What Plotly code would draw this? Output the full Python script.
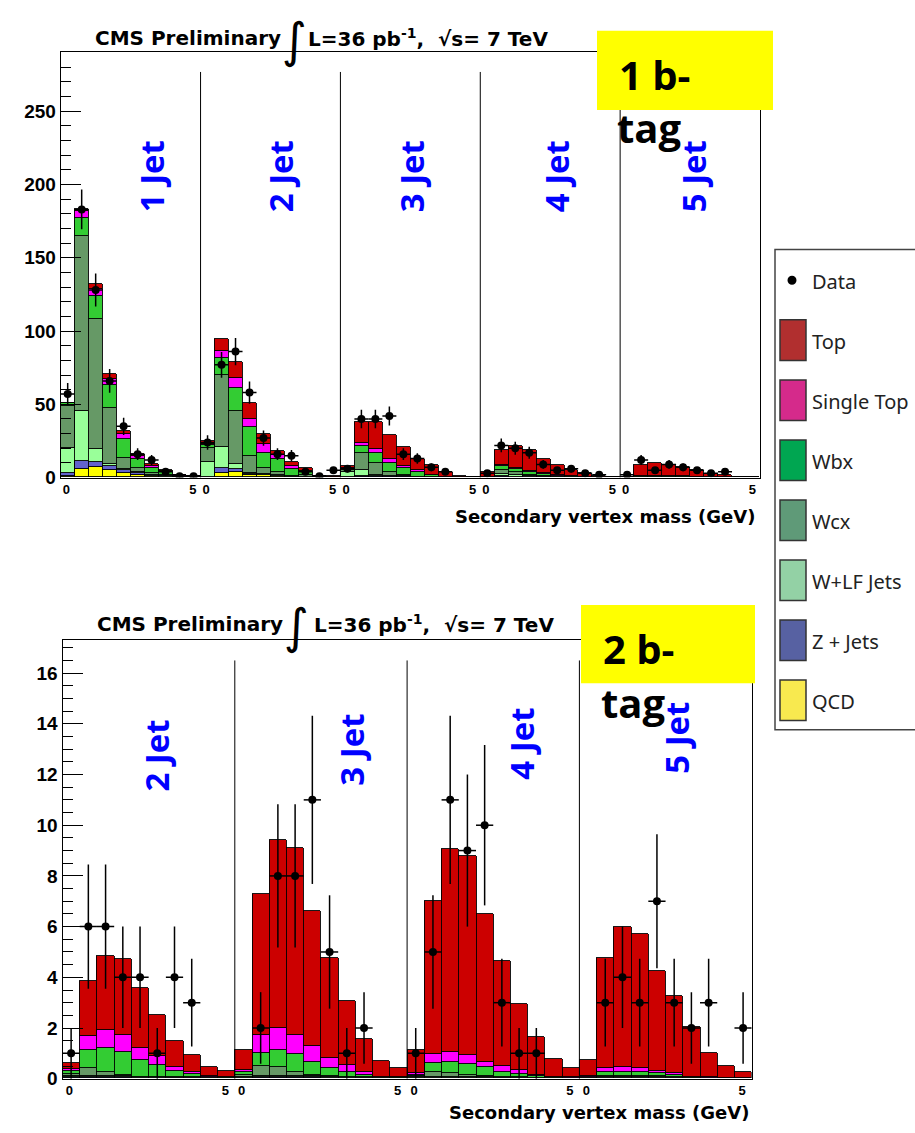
import math
import plotly.graph_objects as go

W, H = 915, 1133

# ---------------- 1 b-tag: five jet-multiplicity blocks, 10 bins each ----------------
TAG1_QCD = [1, 6, 7, 5.4, 2.7, 2, 1, 0.3, 0.1, 0.05,
            0.3, 3, 4, 2, 1.5, 1, 0.2, 0.2, 0.05, 0.02,
            0.2, 0.5, 0.5, 0.4, 0.4, 0.1, 0.1, 0.05, 0.02, 0,
            0.1, 0.5, 0.2, 0.2, 0.1, 0.1, 0.05, 0.02, 0.02, 0,
            0.02, 0.1, 0.1, 0.1, 0.1, 0.05, 0.02, 0.02, 0, 0]
TAG1_ZJETS = [2, 5.5, 3.5, 2.3, 2.3, 0.7, 0.3, 0.2, 0.1, 0.05,
              0.3, 3.5, 2, 0.5, 0.4, 0.3, 0.1, 0.1, 0.02, 0.02,
              0.2, 0.7, 0.5, 0.3, 0.3, 0.1, 0.1, 0.05, 0.02, 0,
              0.1, 0.5, 0.3, 0.2, 0.1, 0.1, 0.05, 0.02, 0.02, 0,
              0.02, 0.1, 0.1, 0.1, 0.1, 0.05, 0.02, 0.02, 0, 0]
TAG1_WLF = [17, 33.5, 9, 1.8, 0.6, 1.1, 0.2, 0.2, 0.1, 0.05,
            10, 14.6, 3.4, 0.5, 0.3, 0.5, 0.2, 0.2, 0.03, 0.03,
            3, 3.6, 1, 0.3, 0.3, 0.1, 0.1, 0.05, 0.02, 0,
            0.1, 1.5, 1, 0.5, 0.3, 0.1, 0.1, 0.05, 0.02, 0,
            0.02, 0.1, 0.1, 0.1, 0.1, 0.05, 0.02, 0.02, 0, 0]
TAG1_WCX = [29, 120, 88.5, 37.8, 8, 2.7, 1.5, 1.3, 0.4, 0.3,
            9.5, 48.7, 36, 11.5, 3.9, 2, 0.5, 1, 0.1, 0.1,
            1.5, 11.7, 8, 2.8, 0.5, 0.2, 0.1, 0.05, 0.03, 0.02,
            0.1, 2.5, 2, 1, 0.5, 0.2, 0.2, 0.05, 0.02, 0.02,
            0.04, 0.1, 0.1, 0.1, 0.1, 0.05, 0.04, 0.02, 0.02, 0]
TAG1_WBX = [1.5, 12, 16, 15.5, 12.8, 6.3, 3.5, 2, 0.6, 0.3,
            2, 11.7, 15.7, 20, 10.8, 9, 5, 2.5, 0.4, 0.3,
            1, 5, 6.5, 6.3, 4.6, 3.5, 1.2, 0.2, 0.05, 0.05,
            0.1, 2.5, 2.5, 2, 1.5, 0.8, 0.4, 0.2, 0.05, 0.05,
            0.1, 0.5, 0.5, 0.4, 0.3, 0.2, 0.1, 0.05, 0.03, 0.02]
TAG1_STOP = [0, 4.5, 4.5, 4.5, 3.3, 1.8, 1.4, 0.3, 0.1, 0.05,
             0.5, 5, 6.8, 5.6, 6, 2.7, 1.8, 0.5, 0.1, 0.05,
             0.3, 2.2, 3, 2.7, 1.6, 1.1, 0.3, 0.1, 0.03, 0.02,
             0.1, 0.8, 0.5, 0.3, 0.3, 0.2, 0.1, 0.05, 0.02, 0.02,
             0.02, 0.1, 0.1, 0.1, 0.1, 0.05, 0.02, 0.02, 0, 0]
TAG1_TOP = [0.3, 1.8, 3.5, 3, 2.3, 1.6, 1.1, 0.5, 0.2, 0.2,
            2, 8.3, 11, 10.5, 7, 2.5, 2.7, 1.6, 0.5, 0.3,
            1.5, 13.9, 18.1, 16.2, 12.8, 7.5, 6.4, 3.5, 1, 0.2,
            3, 10.6, 14.9, 14.5, 10, 7.3, 4.5, 2.4, 0.9, 0.5,
            0.4, 7.8, 9.1, 7.5, 6.5, 4.4, 2, 1.3, 0.3, 0.1]
TAG1_DATA = [57, 183, 128, 66, 35, 16, 12, 4, 1, 1,
             24, 77, 86, 58, 27, 16, 15, 4, 1, 5,
             6, 40, 40, 42, 16, 13, 7, 4, None, None,
             3, 22, 20, 17, 9, 5, 6, 3, 2, None,
             2, 12, 5, 9, 7, 5, 3, 4, None, None]

# ---------------- 2 b-tag: four jet-multiplicity blocks, 10 bins each ----------------
TAG2_QCD = [0.02, 0.02, 0.02, 0.02, 0.01, 0.01, 0.01, 0.01, 0.01, 0.01,
            0.01, 0.02, 0.02, 0.02, 0.02, 0.01, 0.01, 0.01, 0.01, 0,
            0.01, 0.01, 0.01, 0.01, 0.01, 0.01, 0.01, 0, 0, 0,
            0, 0.01, 0.01, 0.01, 0.01, 0.01, 0, 0, 0, 0]
TAG2_ZJETS = [0.03, 0.03, 0.02, 0.02, 0.01, 0.01, 0.01, 0.01, 0.01, 0,
              0.01, 0.03, 0.03, 0.03, 0.03, 0.02, 0.01, 0.01, 0.01, 0.01,
              0.01, 0.01, 0.02, 0.02, 0.02, 0.01, 0.01, 0.01, 0.01, 0,
              0.01, 0.01, 0.01, 0.01, 0.01, 0.01, 0.01, 0, 0, 0]
TAG2_WLF = [0.05, 0.05, 0.04, 0.04, 0.02, 0.02, 0.01, 0.01, 0.01, 0.01,
            0.03, 0.05, 0.05, 0.05, 0.05, 0.03, 0.02, 0.01, 0.01, 0.01,
            0.02, 0.02, 0.03, 0.03, 0.02, 0.01, 0.01, 0.01, 0.01, 0.01,
            0.01, 0.02, 0.02, 0.02, 0.02, 0.01, 0.01, 0.01, 0, 0]
TAG2_WCX = [0.08, 0.29, 0.15, 0.05, 0.03, 0.02, 0.02, 0.01, 0.01, 0.01,
            0.08, 0.39, 0.33, 0.13, 0.05, 0.03, 0.02, 0.02, 0.01, 0.01,
            0.04, 0.19, 0.15, 0.07, 0.03, 0.02, 0.01, 0.01, 0.01, 0.01,
            0.02, 0.06, 0.04, 0.06, 0.04, 0.02, 0.01, 0.01, 0.01, 0.01]
TAG2_WBX = [0.12, 0.73, 0.98, 0.89, 0.66, 0.45, 0.24, 0.14, 0.03, 0.02,
            0.1, 0.52, 0.67, 0.72, 0.5, 0.3, 0.17, 0.1, 0.02, 0.01,
            0.06, 0.37, 0.44, 0.43, 0.35, 0.2, 0.14, 0.05, 0.02, 0.01,
            0.02, 0.16, 0.18, 0.16, 0.12, 0.08, 0.02, 0.01, 0.01, 0.01]
TAG2_STOP = [0.05, 0.54, 0.69, 0.67, 0.48, 0.37, 0.17, 0.08, 0.01, 0.01,
             0.08, 0.68, 0.89, 0.74, 0.62, 0.43, 0.29, 0.08, 0.01, 0.01,
             0.06, 0.35, 0.39, 0.35, 0.22, 0.23, 0.13, 0.05, 0.01, 0.01,
             0.02, 0.13, 0.19, 0.13, 0.1, 0.07, 0.02, 0.01, 0.01, 0.01]
TAG2_TOP = [0.25, 2.19, 2.92, 3.0, 2.34, 1.61, 1.03, 0.65, 0.38, 0.24,
            0.82, 5.6, 7.42, 7.4, 5.32, 3.91, 2.51, 1.33, 0.6, 0.35,
            0.92, 6.05, 8.02, 7.85, 5.83, 4.15, 2.62, 1.5, 0.72, 0.35,
            0.65, 4.34, 5.51, 5.31, 3.94, 3.03, 1.96, 0.94, 0.46, 0.2]
TAG2_DATA = [1, 6, 6, 4, 4, 1, 4, 3, None, None,
             None, 2, 8, 8, 11, 5, 1, 2, None, None,
             1, 5, 11, 9, 10, 3, 1, 1, None, None,
             None, 3, 4, 3, 7, 3, 2, 3, None, 2]

TAG1_JETS = ["1 Jet", "2 Jet", "3 Jet", "4 Jet", "5 Jet"]
TAG2_JETS = ["2 Jet", "3 Jet", "4 Jet", "5 Jet"]

LEGEND_NAMES = ["Top", "Single Top", "Wbx", "Wcx", "W+LF Jets", "Z + Jets", "QCD"]
LEGEND_COLORS = ["#b12f2f", "#d52a8b", "#00a651", "#5f9a78", "#93d1a5", "#5761a2", "#f8e94f"]

# fill colours of the stacked histograms (bottom -> top)
STACK = [
    ("QCD", "#ffff00"),
    ("Z + Jets", "#6262cc"),
    ("W+LF Jets", "#99ff99"),
    ("Wcx", "#669966"),
    ("Wbx", "#33cc33"),
    ("Single Top", "#ff00ff"),
    ("Top", "#cc0000"),
]


def px(x):
    return x / W


def py(y):
    return 1 - y / H


fig = go.Figure()


def add_panel(xa, ya, comps, data):
    n = len(data)
    xc = [i + 0.5 for i in range(n)]
    for (name, color), vals in zip(STACK, comps):
        fig.add_trace(go.Bar(
            x=xc, y=vals, width=1.0, name=name, showlegend=False,
            marker=dict(color=color, line=dict(color="black", width=0.9)),
            xaxis=xa, yaxis=ya, hoverinfo="skip"))
    dx = [x for x, v in zip(xc, data) if v is not None]
    dy = [v for v in data if v is not None]
    fig.add_trace(go.Scatter(
        x=dx, y=dy, mode="markers", showlegend=False, xaxis=xa, yaxis=ya,
        marker=dict(color="black", size=8),
        error_y=dict(type="data", array=[math.sqrt(v) for v in dy],
                     color="black", thickness=1.5, width=0),
        error_x=dict(type="constant", value=0.5, color="black",
                     thickness=1.5, width=0)))


add_panel("x", "y", [TAG1_QCD, TAG1_ZJETS, TAG1_WLF, TAG1_WCX, TAG1_WBX, TAG1_STOP, TAG1_TOP], TAG1_DATA)
add_panel("x2", "y2", [TAG2_QCD, TAG2_ZJETS, TAG2_WLF, TAG2_WCX, TAG2_WBX, TAG2_STOP, TAG2_TOP], TAG2_DATA)

tickfont_y = dict(family="Liberation Sans", size=19, color="black", weight="bold")
tickfont_x = dict(family="Liberation Sans", size=13, color="black", weight="bold")


def x_ticks(nsec):
    vals, text = [], []
    for s in range(nsec):
        vals += [10 * s + 0.4, 10 * s + 9.45]
        text += ["0", "5"]
    return vals, text


tv1, tt1 = x_ticks(5)
tv2, tt2 = x_ticks(4)

axis_common = dict(showline=True, linecolor="black", linewidth=1, mirror=True,
                   showgrid=False, zeroline=False)

fig.update_layout(
    width=W, height=H, autosize=False,
    margin=dict(l=0, r=0, t=0, b=0),
    paper_bgcolor="white", plot_bgcolor="white",
    barmode="stack", bargap=0,
    xaxis=dict(domain=[px(60.7), px(760)], range=[0, 50], anchor="y",
               tickmode="array", tickvals=tv1, ticktext=tt1, ticks="",
               tickfont=tickfont_x, **axis_common),
    yaxis=dict(domain=[py(482.3), py(52.7)], range=[0, 290.3], anchor="x",
               tick0=0, dtick=50, ticks="inside", ticklen=20, tickwidth=1,
               tickcolor="black", tickfont=tickfont_y,
               minor=dict(dtick=10, ticks="inside", ticklen=10, tickwidth=1, tickcolor="black"),
               **axis_common),
    xaxis2=dict(domain=[px(62.5), px(751.7)], range=[0, 40], anchor="y2",
                tickmode="array", tickvals=tv2, ticktext=tt2, ticks="",
                tickfont=tickfont_x, **axis_common),
    yaxis2=dict(domain=[py(1089.3), py(646.7)], range=[0, 17.29], anchor="x2",
                tick0=0, dtick=2, ticks="inside", ticklen=20, tickwidth=1,
                tickcolor="black", tickfont=tickfont_y,
                minor=dict(dtick=0.5, ticks="inside", ticklen=10, tickwidth=1, tickcolor="black"),
                **axis_common),
)

shapes = []
annots = []

# block separators
for s in range(1, 5):
    shapes.append(dict(type="line", xref="x", yref="y", x0=10 * s, x1=10 * s, y0=0, y1=276.8,
                       line=dict(color="black", width=1), layer="above"))
for s in range(1, 4):
    shapes.append(dict(type="line", xref="x2", yref="y2", x0=10 * s, x1=10 * s, y0=0, y1=16.5,
                       line=dict(color="black", width=1), layer="above"))

# jet multiplicity labels
jet_font = dict(family="Open Sans", size=33, color="#0000ff", weight="bold")
for name, (cx, cy) in zip(TAG1_JETS, [(151, 178), (280, 178), (411, 178), (556, 178), (693, 178)]):
    annots.append(dict(text=name, x=px(cx), y=py(cy), xref="paper", yref="paper",
                       textangle=-90, showarrow=False, font=jet_font,
                       xanchor="center", yanchor="middle"))
for name, (cx, cy) in zip(TAG2_JETS, [(157, 763), (352, 757), (522, 751), (677, 745)]):
    annots.append(dict(text=name, x=px(cx), y=py(cy), xref="paper", yref="paper",
                       textangle=-90, showarrow=False, font=jet_font,
                       xanchor="center", yanchor="middle"))

# header lines
hdr_font = dict(family="DejaVu Sans", size=20, color="black", weight="bold")
for (xr, yc, xi, xl) in [(283, 38, 294, 306), (285, 630, 296, 312)]:
    annots.append(dict(text="CMS Preliminary", x=px(xr), y=py(yc), xref="paper", yref="paper",
                       xanchor="right", yanchor="middle", showarrow=False, font=hdr_font))
    annots.append(dict(text="∫", x=px(xi), y=py(yc + 2), xref="paper", yref="paper",
                       xanchor="center", yanchor="middle", showarrow=False,
                       font=dict(family="DejaVu Sans", size=48, color="black")))
    annots.append(dict(text="L=36 pb<sup>-1</sup>,  √s= 7 TeV", x=px(xl), y=py(yc), xref="paper",
                       yref="paper", xanchor="left", yanchor="middle", showarrow=False,
                       font=hdr_font))

# axis titles
for (xr, yc) in [(757, 522), (751, 1123)]:
    annots.append(dict(text="Secondary vertex mass (GeV)", x=px(xr), y=py(yc), xref="paper",
                       yref="paper", xanchor="right", yanchor="middle", showarrow=False,
                       font=dict(family="DejaVu Sans", size=18, color="black", weight="bold")))

# b-tag boxes
tag_font = dict(family="Open Sans", size=40, color="black", weight="bold")
for (x0, y0, x1, y1, label) in [(597, 31, 773, 111, "1 b-"), (581, 611, 755, 690, "2 b-")]:
    shapes.append(dict(type="rect", xref="paper", yref="paper", x0=px(x0), x1=px(x1),
                       y0=py(y1), y1=py(y0), fillcolor="#ffff00", line=dict(width=0),
                       layer="above"))
    annots.append(dict(text=label, x=px(x0 + 20), y=py(y0 + 44), xref="paper", yref="paper",
                       xanchor="left", yanchor="middle", showarrow=False, font=tag_font))
    annots.append(dict(text="tag", x=px(x0 + 18), y=py(y0 + 98), xref="paper", yref="paper",
                       xanchor="left", yanchor="middle", showarrow=False, font=tag_font))

# legend panel
shapes.append(dict(type="rect", xref="paper", yref="paper", x0=px(775), x1=px(930),
                   y0=py(737), y1=py(252), fillcolor="white",
                   line=dict(color="#444444", width=1.5), layer="above"))
shapes.append(dict(type="circle", xref="paper", yref="paper", x0=px(787.5), x1=px(796.5),
                   y0=py(287.5), y1=py(278.5), fillcolor="black", line=dict(width=0),
                   layer="above"))
leg_font = dict(family="Noto Sans", size=20, color="#222222")
annots.append(dict(text="Data", x=px(810), y=py(284), xref="paper", yref="paper",
                   xanchor="left", yanchor="middle", showarrow=False, font=leg_font))
for i, (name, color) in enumerate(zip(LEGEND_NAMES, LEGEND_COLORS)):
    top = 323 + i * 60.6
    shapes.append(dict(type="rect", xref="paper", yref="paper", x0=px(780), x1=px(806),
                       y0=py(top + 41), y1=py(top), fillcolor=color,
                       line=dict(color="#333333", width=1.5), layer="above"))
    annots.append(dict(text=name, x=px(810), y=py(top + 22), xref="paper", yref="paper",
                       xanchor="left", yanchor="middle", showarrow=False, font=leg_font))

fig.update_layout(shapes=shapes, annotations=annots)
fig.write_html("out.html")
